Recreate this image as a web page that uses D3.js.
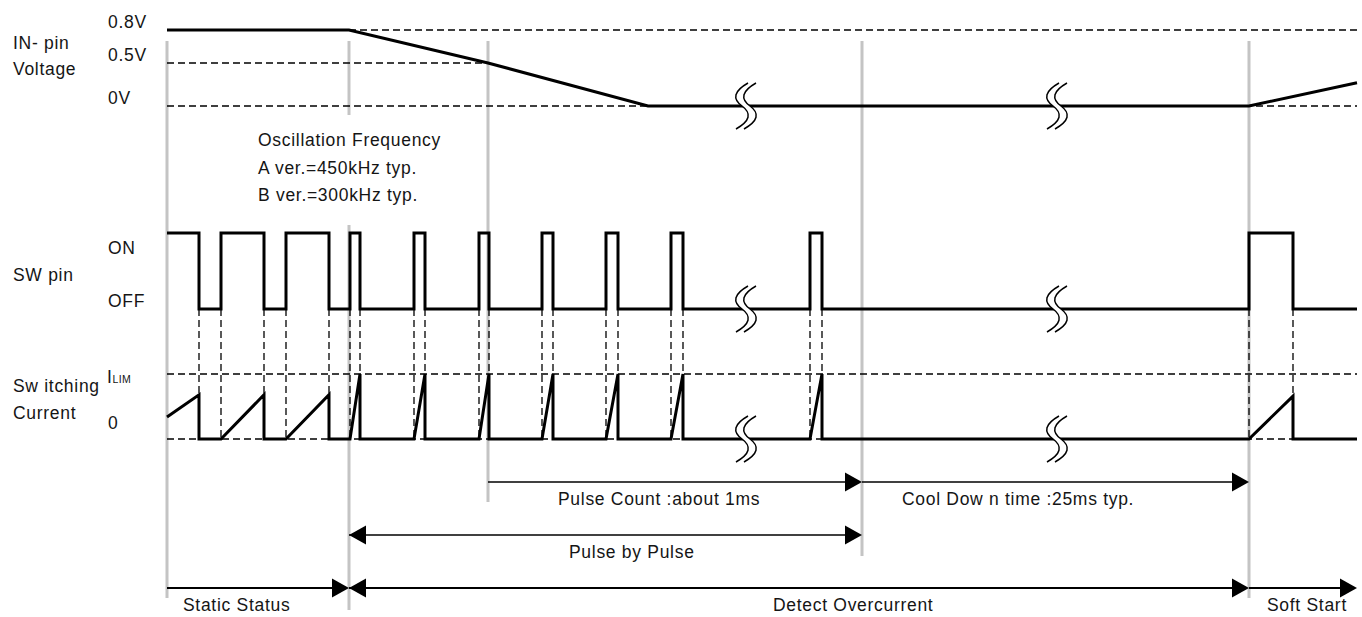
<!DOCTYPE html>
<html><head><meta charset="utf-8">
<script src="https://cdn.jsdelivr.net/npm/d3@7"></script>
<style>
body{margin:0;background:#fff;}
text{font-family:"Liberation Sans",Arial,sans-serif;fill:#151515;font-size:17.5px;letter-spacing:0.7px;}
</style>
</head><body><svg id="chart" width="1362" height="617"></svg>
<script>
// ---- data (time in arbitrary diagram units) ----
const tEnd = 119.0;
const phaseTimes = [0, 18.2, 32.1, 69.5, 108.2];
const breakTimes = [57.9, 89.0];
const voltageT = [0, 18.2, 32.1, 48.1, 108.2, 119.0];
const voltageV = [0.8, 0.8, 0.5, 0, 0, 0.27];
const voltageTicks = [0.8, 0.5, 0];
const voltageTickLabels = ["0.8V", "0.5V", "0V"];
const voltageRefStart = [18.2, 0, 0];
const voltageRefEnd = [119.0, 32.1, 119.0];
const pulseOn  = [0, 5.4, 11.9, 18.3, 24.7, 31.2, 37.5, 43.9, 50.4, 64.3, 108.2];
const pulseOff = [3.2, 9.7, 16.2, 19.3, 25.8, 32.2, 38.6, 45.1, 51.6, 65.5, 112.6];
const currentStart = [0.34, 0, 0, 0, 0, 0, 0, 0, 0, 0, 0];
const currentPeak  = [0.68, 0.68, 0.68, 1, 1, 1, 1, 1, 1, 1, 0.66];
const spanLabels = ["Pulse Count :about 1ms", "Cool Dow n time :25ms typ.", "Pulse by Pulse", "Static Status", "Detect Overcurrent", "Soft Start"];
const spanStart  = [32.1, 69.5, 18.2, 0, 18.2, 108.2];
const spanEnd    = [69.5, 108.2, 69.5, 18.2, 108.2, 119.0];
const spanHeads  = ["end", "end", "both", "end", "both", "end"];
const spanRow    = [0, 0, 1, 2, 2, 2];
const spanLabelT = [39.1, 73.5, 40.2, 1.6, 60.6, 110.0];
const noteLines = ["Oscillation Frequency", "A ver.=450kHz typ.", "B ver.=300kHz typ."];

// ---- scales ----
const svg = d3.select("#chart");
const x = d3.scaleLinear().domain([0, tEnd]).range([167, 1357]);
const yV = d3.scaleLinear().domain([0, 0.5, 0.8]).range([106, 63, 30]);
const yS = d3.scaleLinear().domain([0, 1]).range([309, 233]);
const yI = d3.scaleLinear().domain([0, 1]).range([439, 374]);
const rowY = [482, 535, 588];
const rowW = [1.3, 1.3, 2];

// ---- gray phase markers ----
const markerSegs = [[[41, 598]], [[41, 115], [225, 610]], [[41, 502]], [[41, 556]], [[41, 598]]];
phaseTimes.forEach((t, i) => {
  markerSegs[i].forEach(s => {
    svg.append("line").attr("x1", x(t)).attr("x2", x(t)).attr("y1", s[0]).attr("y2", s[1])
      .attr("stroke", "#c4c4c4").attr("stroke-width", 3);
  });
});

const dash = "7,4";
function dline(x1, y1, x2, y2) {
  svg.append("line").attr("x1", x1).attr("y1", y1).attr("x2", x2).attr("y2", y2)
    .attr("stroke", "#000").attr("stroke-width", 1.3).attr("stroke-dasharray", dash);
}
// voltage reference levels
voltageTicks.forEach((v, i) => dline(x(voltageRefStart[i]), yV(v), x(voltageRefEnd[i]), yV(v)));
// current reference levels
dline(x(0), yI(1), x(tEnd), yI(1));
dline(x(0), yI(0), x(tEnd), yI(0));
// edge projection lines
pulseOn.concat(pulseOff).filter(t => t > 0).forEach(t => dline(x(t), yS(0), x(t), yI(0)));

// ---- signals ----
const line = d3.line().x(d => x(d[0])).y(d => d[1]);
const vPts = voltageT.map((t, i) => [t, yV(voltageV[i])]);
const sPts = [], iPts = [];
pulseOn.forEach((a, i) => {
  const b = pulseOff[i];
  if (a > 0) { sPts.push([a, yS(0)]); }
  sPts.push([a, yS(1)], [b, yS(1)], [b, yS(0)]);
  if (a > 0) iPts.push([a, yI(0)]);
  iPts.push([a, yI(currentStart[i])], [b, yI(currentPeak[i])], [b, yI(0)]);
});
sPts.push([tEnd, yS(0)]);
iPts.push([tEnd, yI(0)]);
[vPts, sPts, iPts].forEach(p => {
  svg.append("path").attr("d", line(p)).attr("fill", "none").attr("stroke", "#000")
    .attr("stroke-width", 3).attr("stroke-linejoin", "miter");
});

// ---- break marks ----
function breakMark(cx, cy) {
  const c = dx => [[cx + dx + 6, cy - 23], [cx + dx - 15, cy - 11], [cx + dx, cy], [cx + dx + 15, cy + 11], [cx + dx - 6, cy + 23]];
  const L = c(-4), R = c(4);
  const fwd = p => `M${p[0]}L${p[0]}Q${p[1]} ${p[2]}Q${p[3]} ${p[4]}`;
  const fill = `M${L[0]}Q${L[1]} ${L[2]}Q${L[3]} ${L[4]}L${R[4]}Q${R[3]} ${R[2]}Q${R[1]} ${R[0]}Z`;
  svg.append("path").attr("d", fill).attr("fill", "#fff").attr("stroke", "none");
  [L, R].forEach(p => svg.append("path").attr("d", fwd(p)).attr("fill", "none")
    .attr("stroke", "#000").attr("stroke-width", 1.5));
}
breakTimes.forEach(t => {
  breakMark(x(t), yV(0));
  breakMark(x(t), yS(0));
  breakMark(x(t), yI(0));
});

// ---- span arrows ----
function head(tipX, y, dir) {
  const L = 17, H = 9.5;
  svg.append("path").attr("d", `M${tipX},${y}L${tipX - dir * L},${y - H}L${tipX - dir * L},${y + H}Z`).attr("fill", "#000");
}
spanLabels.forEach((lab, i) => {
  const y = rowY[spanRow[i]];
  const x1 = x(spanStart[i]), x2 = x(spanEnd[i]);
  svg.append("line").attr("x1", x1).attr("x2", x2 - 5).attr("y1", y).attr("y2", y)
    .attr("stroke", "#000").attr("stroke-width", rowW[spanRow[i]]);
  head(x2, y, 1);
  if (spanHeads[i] === "both") head(x1, y, -1);
  svg.append("text").attr("x", x(spanLabelT[i])).attr("y", y + 23).text(lab);
});

// ---- labels ----
const lab = (tx, ty, s) => svg.append("text").attr("x", tx).attr("y", ty).text(s);
lab(13, 49, "IN- pin");
lab(13, 75, "Voltage");
voltageTicks.forEach((v, i) => lab(108, yV(v) - 2, voltageTickLabels[i]));
lab(108, 254, "ON");
lab(13, 281, "SW pin");
lab(108, 307, "OFF");
lab(13, 392, "Sw itching");
lab(13, 419, "Current");
const il = svg.append("text").attr("x", 107).attr("y", 383);
il.append("tspan").text("I");
il.append("tspan").style("font-size", "10.5px").style("letter-spacing", "0.3px").text("LIM");
lab(108, 429, "0");
noteLines.forEach((s, i) => lab(258, 146 + i * 27.5, s));
</script>
</body></html>
